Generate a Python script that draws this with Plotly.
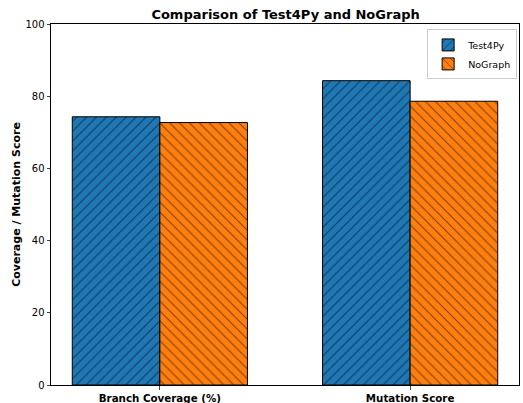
import plotly.graph_objects as go

categories = ["Branch Coverage (%)", "Mutation Score"]
test4py = [74.3, 84.3]
nograph = [72.7, 78.6]
series_names = ["Test4Py", "NoGraph"]
yticks = [0, 20, 40, 60, 80, 100]

font = "DejaVu Sans"
fig = go.Figure()
fig.add_trace(go.Bar(
    x=[0, 1], y=test4py, name=series_names[0], offset=-0.35, width=0.35,
    marker=dict(color="#1f77b4", line=dict(color="black", width=1),
                pattern=dict(shape="/", fgcolor="black", size=7, solidity=0.15)),
))
fig.add_trace(go.Bar(
    x=[0, 1], y=nograph, name=series_names[1], offset=0, width=0.35,
    marker=dict(color="#ff7f0e", line=dict(color="black", width=1),
                pattern=dict(shape="\\", fgcolor="black", size=7, solidity=0.15)),
))
fig.update_layout(
    width=523, height=403,
    margin=dict(l=51, r=4, t=24, b=18, autoexpand=False),
    plot_bgcolor="white", paper_bgcolor="white",
    font=dict(family=font, size=10, color="black"),
    title=dict(text="<b>Comparison of Test4Py and NoGraph</b>", x=0.546, xanchor="center",
               y=0.965, yanchor="middle", font=dict(size=13)),
    showlegend=True,
    legend=dict(x=0.996, y=0.985, xanchor="right", yanchor="top",
                bordercolor="#cccccc", borderwidth=1, bgcolor="white",
                font=dict(size=9.5), tracegroupgap=0, itemwidth=30),
    xaxis=dict(range=[-0.435, 1.435], tickvals=[0, 1],
               ticktext=["<b>" + c + "</b>" for c in categories],
               tickfont=dict(size=10.3),
               showline=True, linecolor="black", mirror=True, ticks="outside",
               ticklen=3.5, showgrid=False, zeroline=False, automargin=False),
    yaxis=dict(range=[0, 100], tickvals=yticks,
               title=dict(text="<b>Coverage / Mutation Score</b>", standoff=2, font=dict(size=11)),
               showline=True, linecolor="black", mirror=True, ticks="outside",
               ticklen=3.5, showgrid=False, zeroline=False, automargin=False),
)
fig.write_html("out.html", config={"displayModeBar": False},
               post_script="document.body.style.margin='0';document.body.style.overflow='hidden';")
